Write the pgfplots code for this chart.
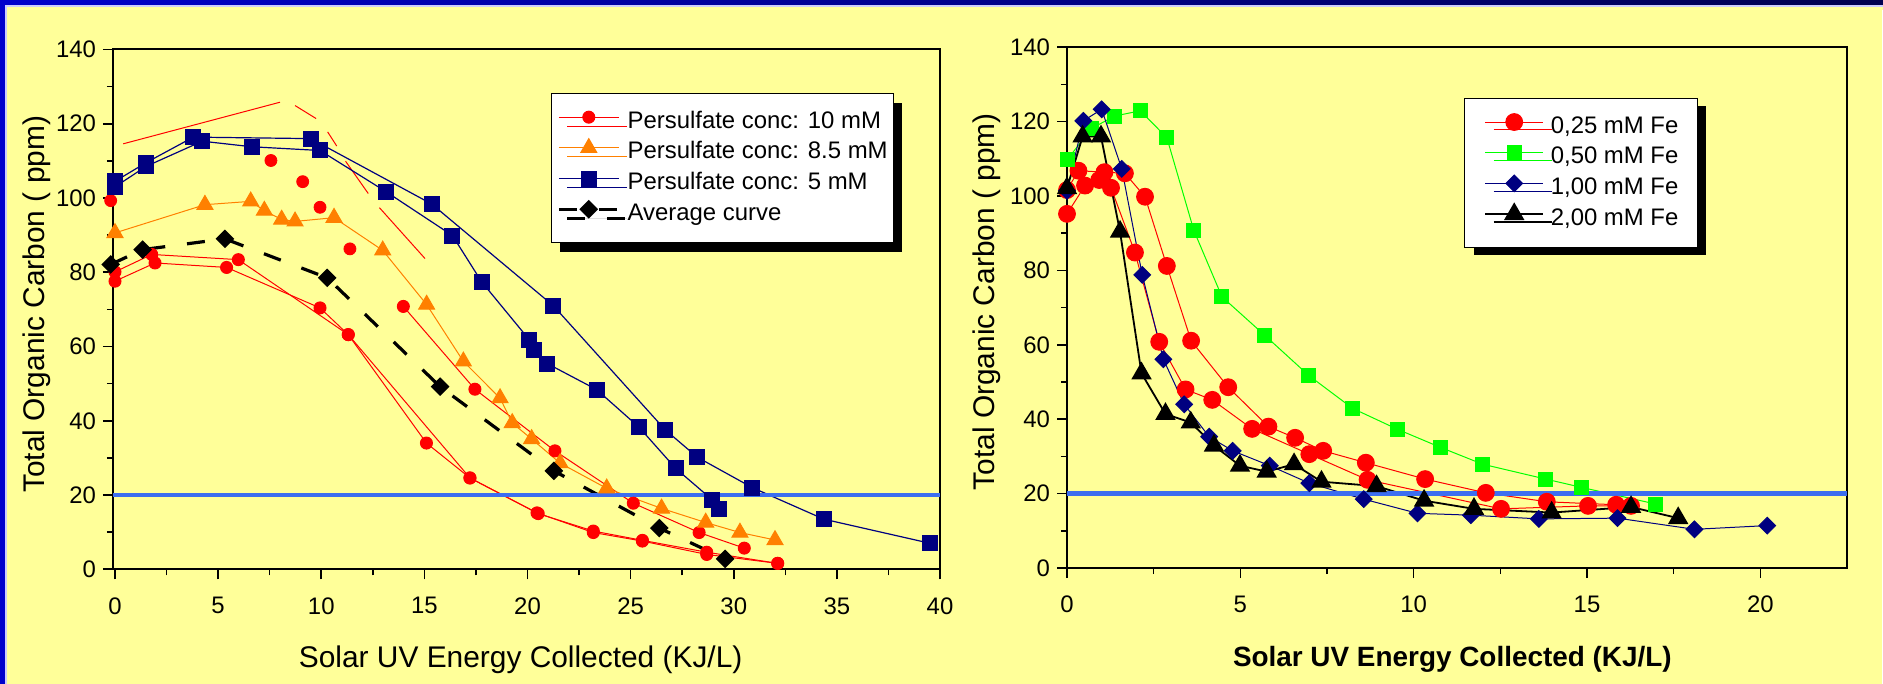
\documentclass[border=0pt]{standalone}
\usepackage{fontspec}
\setmainfont{Liberation Sans}
\usepackage{pgfplots}
\pgfplotsset{compat=1.18}
\usetikzlibrary{shadows}

\definecolor{bgyellow}{RGB}{255,255,153}
\definecolor{frameblue}{RGB}{0,0,204}
\definecolor{framenavy}{RGB}{0,0,80}
\definecolor{navy}{RGB}{0,0,128}
\definecolor{orng}{RGB}{255,128,0}
\definecolor{limeg}{RGB}{0,255,0}
\definecolor{refblue}{RGB}{60,110,240}

\pgfplotsset{
  tocpanel/.style={
    scale only axis,
    clip=false,
    axis line style={line width=1bp},
    tick style={line width=0.8bp, black},
    tick align=outside,
    xtick pos=left, ytick pos=left,
    major tick length=5bp, minor tick length=3bp,
    minor x tick num=1, minor y tick num=1,
    ymin=0, ymax=140, ytick={0,20,...,140},
    tick label style={font=\fontsize{12}{14}\selectfont},
    xticklabel style={yshift=-5.5bp},
    /pgf/number format/assume math mode=true,
    label style={font=\fontsize{15}{18}\selectfont},
    legend cell align=left,
    legend image code/.code={\draw[mark repeat=2,mark phase=2,##1] plot coordinates {(0bp,2.5bp) (15bp,2.5bp) (30bp,2.5bp)};},
  },
  legbox/.style={
    anchor=north west, draw=black, line width=0.5bp, fill=white,
    inner ysep=6.5bp,
    nodes={inner xsep=0bp, inner ysep=1.675bp, text height=9bp, text depth=3bp},
    /tikz/every odd column/.append style={column sep=3.6bp},
    font=\fontsize{12}{14}\selectfont,
  },
}

\begin{document}
\begin{tikzpicture}
\useasboundingbox (0,0) rectangle (941.5bp,342bp);
\fill[bgyellow] (0,0) rectangle (941.5bp,342bp);
\shade[left color=frameblue, right color=framenavy] (0,339.3bp) rectangle (941.5bp,342bp);
\fill[white!80!blue] (0,338.7bp) rectangle (941.5bp,339.3bp);
\fill[frameblue] (0,0) rectangle (2.67bp,339.3bp);
\fill[white!80!blue] (2.67bp,0) rectangle (3.3bp,338.7bp);
\fill[white] (941bp,0) rectangle (941.5bp,337bp);

% left panel: persulfate
\begin{axis}[tocpanel,
  at={(56.47bp,57.35bp)}, anchor=south west,
  width=413.53bp, height=259.9bp,
  xmin=-0.1, xmax=40, xtick={0,5,...,40},
  xlabel={Solar UV Energy Collected (KJ/L)},
  xlabel style={at={(rel axis cs:0.493,-0.189)}, anchor=base},
  ylabel={Total Organic Carbon ( ppm)},
  ylabel style={at={(rel axis cs:-0.092,0.51)}, anchor=center},
  legend style={legbox, at={(rel axis cs:0.5293,0.9157)}, inner xsep=3bp,
    drop shadow={shadow xshift=4.2bp, shadow yshift=-4.5bp, fill=black, opacity=1}},
]
\addplot[red, line width=0.5bp, mark=*, mark size=3bp, mark options={solid}]
  coordinates {(0,77.6)(1.94,82.5)(5.41,81.3)(9.94,70.4)(11.31,63.2)(15.1,34.0)(17.21,24.6)(20.46,15.2)(23.19,9.9)(25.57,7.6)(28.69,4.0)(32.13,1.6)};
\addlegendentry{Persulfate conc: 10 mM}
\addplot[red, line width=0.5bp, mark=*, mark size=3bp, forget plot]
  coordinates {(0,80.1)(1.78,84.8)(5.98,83.4)(11.31,63.2)(17.21,24.6)(20.52,15.0)(23.19,10.3)(25.57,7.8)(28.69,4.6)(32.13,1.6)};
\addplot[red, only marks, mark=*, mark size=3bp, forget plot]
  coordinates {(-0.21,99.3)(7.56,110.1)(9.1,104.4)(9.94,97.5)(11.39,86.3)};
\addplot[red, line width=0.5bp, mark=*, mark size=3bp, forget plot]
  coordinates {(13.98,70.8)(17.45,48.5)(21.33,31.9)(25.13,17.8)(28.32,9.9)(30.51,5.7)};
% the misplaced connecting line of this series
\addplot[red, line width=0.5bp, forget plot] coordinates {(0.4,114.6)(8.0,125.8)};
\addplot[red, line width=0.5bp, forget plot] coordinates {(8.73,124.9)(9.75,121.4)};
\addplot[red, line width=0.5bp, forget plot] coordinates {(10.31,117.8)(10.75,114.0)};
\addplot[red, line width=0.5bp, forget plot] coordinates {(11.18,109.9)(12.28,101.2)};
\addplot[red, line width=0.5bp, forget plot] coordinates {(12.82,97.4)(15.03,83.7)};

\addplot[orng, line width=0.5bp, mark=triangle*, mark size=4.6bp]
  coordinates {(0,90.6)(4.36,98.2)(6.58,99.1)(7.24,96.6)(8.08,94.2)(8.73,93.7)(10.62,94.7)(12.98,85.9)(15.11,71.3)(16.89,56.0)(18.67,46.1)(19.26,39.4)(20.2,35.1)(21.58,28.6)(23.84,21.8)(26.5,16.4)(28.64,12.6)(30.3,9.9)(32.0,7.9)};
\addlegendentry{Persulfate conc: 8.5 mM}

\addplot[navy, line width=0.6bp, mark=square*, mark size=3.7bp]
  coordinates {(0,104.5)(1.5,109.5)(3.8,116.4)(9.49,116.0)(15.35,98.4)(21.25,71.0)(26.67,37.6)(28.23,30.2)(30.9,22.0)(34.37,13.5)(39.52,7.0)};
\addlegendentry{Persulfate conc: 5 mM}
\addplot[navy, line width=0.6bp, mark=square*, mark size=3.7bp, forget plot]
  coordinates {(0,103.0)(1.5,108.5)(4.23,115.3)(6.63,113.8)(9.94,112.8)(13.14,101.7)(16.36,89.9)(17.78,77.4)(20.09,61.8)(20.33,59.0)(20.96,55.4)(23.35,48.4)(25.42,38.2)(27.18,27.2)(28.96,18.7)(29.28,16.2)};

\addplot[black, line width=1.6bp, dash pattern=on 9bp off 11bp, mark=square*, mark size=2.5bp, mark options={solid, rotate=45}]
  coordinates {(-0.21,82.1)(1.34,86.1)(5.33,89.0)(10.29,78.5)(15.76,49.2)(21.28,26.5)(26.39,11.1)(29.58,2.8)};
\addlegendentry{Average curve}

\addplot[refblue, line width=2.3bp, forget plot] coordinates {(-0.1,20)(40,20)};
\end{axis}

% right panel: iron
\begin{axis}[tocpanel,
  at={(533.5bp,58bp)}, anchor=south west,
  width=390bp, height=260.4bp,
  xmin=0, xmax=22.5, xtick={0,5,...,20},
  xlabel={Solar UV Energy Collected (KJ/L)},
  xlabel style={at={(rel axis cs:0.494,-0.19)}, anchor=base, font=\bfseries\fontsize{14}{17}\selectfont},
  ylabel={Total Organic Carbon ( ppm)},
  ylabel style={at={(rel axis cs:-0.103,0.511)}, anchor=center},
  legend image code/.code={\draw[mark repeat=2,mark phase=2,#1] plot coordinates {(0bp,2.5bp) (14.6bp,2.5bp) (29.2bp,2.5bp)};},
  legend style={legbox, at={(rel axis cs:0.5095,0.9021)}, inner xsep=9.6bp,
    /tikz/every odd column/.append style={column sep=3.25bp},
    drop shadow={shadow xshift=4.4bp, shadow yshift=-3.9bp, fill=black, opacity=1}},
]
\addplot[red, line width=0.5bp, mark=*, mark size=4.2bp]
  coordinates {(0,101.6)(0.33,106.8)(1.08,106.4)(1.67,106.1)(2.25,99.8)(2.88,81.2)(3.58,61.1)(4.65,48.6)(5.81,38.0)(6.58,35.0)(7.39,31.5)(8.62,28.3)(10.33,23.9)(12.08,20.2)(13.84,17.8)(15.84,17.0)};
\addlegendentry{0,25 mM Fe}
\addplot[red, line width=0.5bp, mark=*, mark size=4.2bp, forget plot]
  coordinates {(0,95.2)(0.52,102.8)(0.93,104.3)(1.27,102.2)(1.96,84.8)(2.66,60.8)(3.42,48.0)(4.19,45.2)(5.34,37.4)(6.99,30.6)(8.67,23.7)(12.52,15.9)(15.03,16.7)(16.27,16.7)};

\addplot[limeg, line width=0.5bp, mark=square*, mark size=3.5bp]
  coordinates {(0,109.7)(0.71,118.2)(1.38,121.5)(2.11,122.9)(2.88,115.7)(3.66,90.7)(4.47,72.9)(5.71,62.5)(6.98,51.7)(8.24,42.9)(9.53,37.3)(10.78,32.4)(11.99,27.9)(13.81,23.9)(14.83,21.7)(16.98,17.2)};
\addlegendentry{0,50 mM Fe}

\addplot[navy, line width=0.5bp, mark=square*, mark size=2.95bp, mark options={rotate=45}]
  coordinates {(0,101.4)(0.47,120.2)(1.0,123.3)(1.58,107.3)(2.17,78.8)(2.78,56.1)(3.38,44.0)(4.1,35.3)(4.78,31.5)(5.85,27.5)(6.99,22.8)(8.56,18.5)(10.11,14.7)(11.65,14.2)(13.61,13.2)(15.88,13.4)(18.1,10.4)(20.2,11.4)};
\addlegendentry{1,00 mM Fe}

\addplot[black, line width=0.9bp, mark=triangle*, mark size=5bp]
  coordinates {(0,102.1)(0.45,116.0)(0.98,116.0)(1.53,90.4)(2.15,52.3)(2.84,41.4)(3.57,39.1)(4.24,32.9)(4.99,27.5)(5.76,25.9)(6.55,27.9)(7.34,23.2)(8.93,22.0)(10.3,18.1)(11.74,15.9)(13.98,14.9)(16.27,16.4)(17.63,13.4)};
\addlegendentry{2,00 mM Fe}

\addplot[refblue, line width=2.3bp, forget plot] coordinates {(0,20)(22.5,20)};
\end{axis}
\end{tikzpicture}
\end{document}
